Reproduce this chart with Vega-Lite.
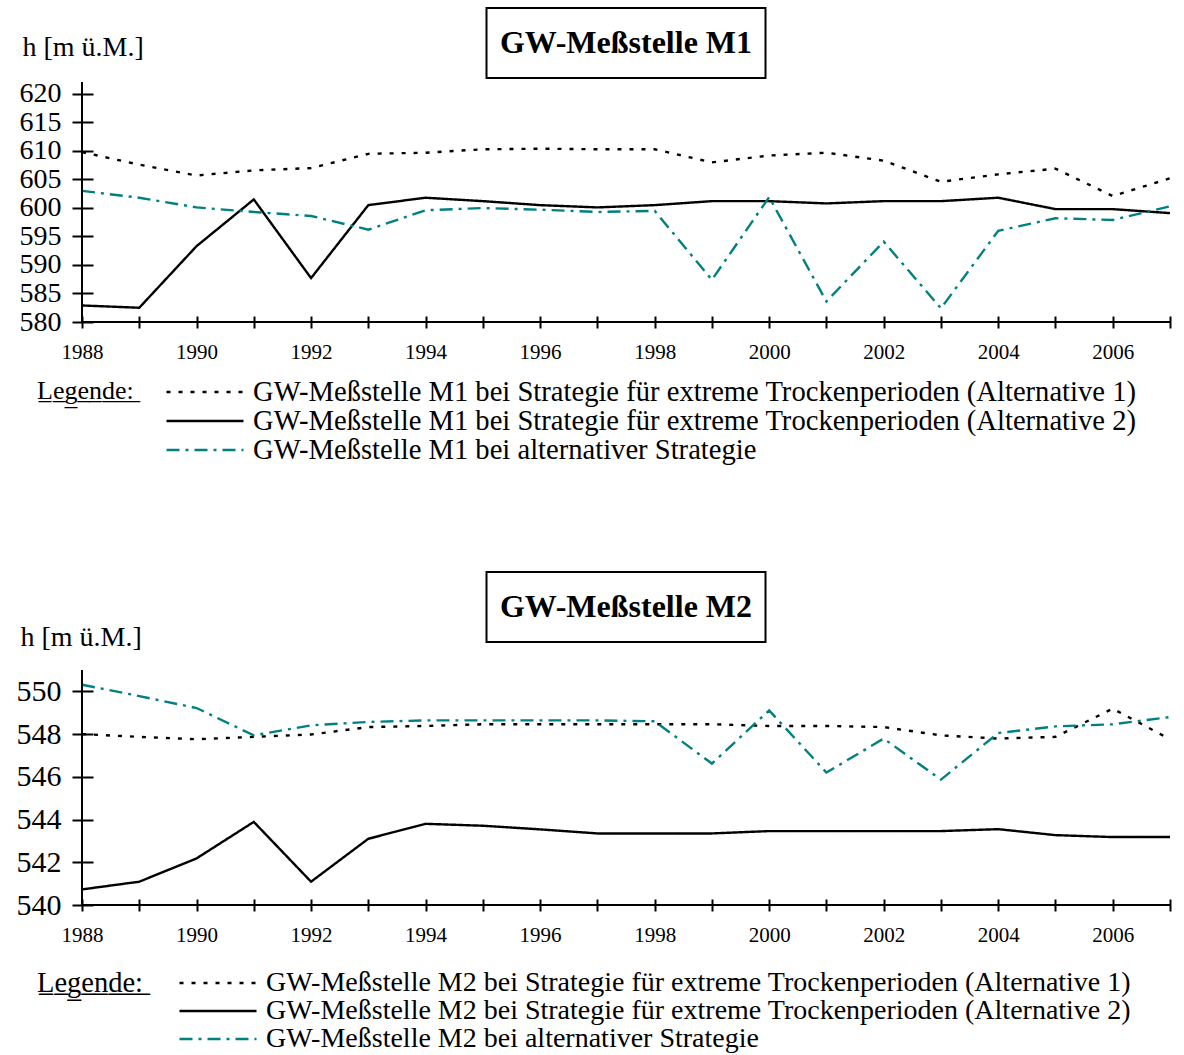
{
  "$schema": "https://vega.github.io/schema/vega-lite/v6.json",
  "padding": {"left": 16, "top": 7, "right": 5, "bottom": 5},
  "bounds": "flush",
  "spacing": 4,
  "center": true,
  "config": {
    "view": {"stroke": null},
    "font": "Liberation Serif",
    "axis": {
      "grid": false,
      "domain": false,
      "labelOverlap": false,
      "tickColor": "black",
      "tickWidth": 2,
      "labelColor": "black",
      "labelFont": "Liberation Serif",
      "titleFont": "Liberation Serif",
      "titleColor": "black",
      "titleFontWeight": "normal"
    }
  },
  "resolve": {"scale": {"color": "independent", "strokeDash": "independent", "x": "independent", "y": "independent"}},
  "datasets": {
    "m1": [
      {"year": 1988, "s": "GW-Meßstelle M1 bei Strategie für extreme Trockenperioden (Alternative 1)", "h": 609.8},
      {"year": 1989, "s": "GW-Meßstelle M1 bei Strategie für extreme Trockenperioden (Alternative 1)", "h": 607.6},
      {"year": 1990, "s": "GW-Meßstelle M1 bei Strategie für extreme Trockenperioden (Alternative 1)", "h": 605.7},
      {"year": 1991, "s": "GW-Meßstelle M1 bei Strategie für extreme Trockenperioden (Alternative 1)", "h": 606.6},
      {"year": 1992, "s": "GW-Meßstelle M1 bei Strategie für extreme Trockenperioden (Alternative 1)", "h": 607.0},
      {"year": 1993, "s": "GW-Meßstelle M1 bei Strategie für extreme Trockenperioden (Alternative 1)", "h": 609.5},
      {"year": 1994, "s": "GW-Meßstelle M1 bei Strategie für extreme Trockenperioden (Alternative 1)", "h": 609.7},
      {"year": 1995, "s": "GW-Meßstelle M1 bei Strategie für extreme Trockenperioden (Alternative 1)", "h": 610.3},
      {"year": 1996, "s": "GW-Meßstelle M1 bei Strategie für extreme Trockenperioden (Alternative 1)", "h": 610.4},
      {"year": 1997, "s": "GW-Meßstelle M1 bei Strategie für extreme Trockenperioden (Alternative 1)", "h": 610.3},
      {"year": 1998, "s": "GW-Meßstelle M1 bei Strategie für extreme Trockenperioden (Alternative 1)", "h": 610.3},
      {"year": 1999, "s": "GW-Meßstelle M1 bei Strategie für extreme Trockenperioden (Alternative 1)", "h": 608.0},
      {"year": 2000, "s": "GW-Meßstelle M1 bei Strategie für extreme Trockenperioden (Alternative 1)", "h": 609.2},
      {"year": 2001, "s": "GW-Meßstelle M1 bei Strategie für extreme Trockenperioden (Alternative 1)", "h": 609.7},
      {"year": 2002, "s": "GW-Meßstelle M1 bei Strategie für extreme Trockenperioden (Alternative 1)", "h": 608.3},
      {"year": 2003, "s": "GW-Meßstelle M1 bei Strategie für extreme Trockenperioden (Alternative 1)", "h": 604.6},
      {"year": 2004, "s": "GW-Meßstelle M1 bei Strategie für extreme Trockenperioden (Alternative 1)", "h": 605.9},
      {"year": 2005, "s": "GW-Meßstelle M1 bei Strategie für extreme Trockenperioden (Alternative 1)", "h": 606.9},
      {"year": 2006, "s": "GW-Meßstelle M1 bei Strategie für extreme Trockenperioden (Alternative 1)", "h": 602.1},
      {"year": 2007, "s": "GW-Meßstelle M1 bei Strategie für extreme Trockenperioden (Alternative 1)", "h": 605.2},
      {"year": 1988, "s": "GW-Meßstelle M1 bei Strategie für extreme Trockenperioden (Alternative 2)", "h": 582.9},
      {"year": 1989, "s": "GW-Meßstelle M1 bei Strategie für extreme Trockenperioden (Alternative 2)", "h": 582.5},
      {"year": 1990, "s": "GW-Meßstelle M1 bei Strategie für extreme Trockenperioden (Alternative 2)", "h": 593.3},
      {"year": 1991, "s": "GW-Meßstelle M1 bei Strategie für extreme Trockenperioden (Alternative 2)", "h": 601.5},
      {"year": 1992, "s": "GW-Meßstelle M1 bei Strategie für extreme Trockenperioden (Alternative 2)", "h": 587.7},
      {"year": 1993, "s": "GW-Meßstelle M1 bei Strategie für extreme Trockenperioden (Alternative 2)", "h": 600.5},
      {"year": 1994, "s": "GW-Meßstelle M1 bei Strategie für extreme Trockenperioden (Alternative 2)", "h": 601.8},
      {"year": 1995, "s": "GW-Meßstelle M1 bei Strategie für extreme Trockenperioden (Alternative 2)", "h": 601.2},
      {"year": 1996, "s": "GW-Meßstelle M1 bei Strategie für extreme Trockenperioden (Alternative 2)", "h": 600.5},
      {"year": 1997, "s": "GW-Meßstelle M1 bei Strategie für extreme Trockenperioden (Alternative 2)", "h": 600.1},
      {"year": 1998, "s": "GW-Meßstelle M1 bei Strategie für extreme Trockenperioden (Alternative 2)", "h": 600.5},
      {"year": 1999, "s": "GW-Meßstelle M1 bei Strategie für extreme Trockenperioden (Alternative 2)", "h": 601.2},
      {"year": 2000, "s": "GW-Meßstelle M1 bei Strategie für extreme Trockenperioden (Alternative 2)", "h": 601.2},
      {"year": 2001, "s": "GW-Meßstelle M1 bei Strategie für extreme Trockenperioden (Alternative 2)", "h": 600.8},
      {"year": 2002, "s": "GW-Meßstelle M1 bei Strategie für extreme Trockenperioden (Alternative 2)", "h": 601.2},
      {"year": 2003, "s": "GW-Meßstelle M1 bei Strategie für extreme Trockenperioden (Alternative 2)", "h": 601.2},
      {"year": 2004, "s": "GW-Meßstelle M1 bei Strategie für extreme Trockenperioden (Alternative 2)", "h": 601.8},
      {"year": 2005, "s": "GW-Meßstelle M1 bei Strategie für extreme Trockenperioden (Alternative 2)", "h": 599.8},
      {"year": 2006, "s": "GW-Meßstelle M1 bei Strategie für extreme Trockenperioden (Alternative 2)", "h": 599.8},
      {"year": 2007, "s": "GW-Meßstelle M1 bei Strategie für extreme Trockenperioden (Alternative 2)", "h": 599.1},
      {"year": 1988, "s": "GW-Meßstelle M1 bei alternativer Strategie", "h": 603.0},
      {"year": 1989, "s": "GW-Meßstelle M1 bei alternativer Strategie", "h": 601.8},
      {"year": 1990, "s": "GW-Meßstelle M1 bei alternativer Strategie", "h": 600.1},
      {"year": 1991, "s": "GW-Meßstelle M1 bei alternativer Strategie", "h": 599.3},
      {"year": 1992, "s": "GW-Meßstelle M1 bei alternativer Strategie", "h": 598.6},
      {"year": 1993, "s": "GW-Meßstelle M1 bei alternativer Strategie", "h": 596.2},
      {"year": 1994, "s": "GW-Meßstelle M1 bei alternativer Strategie", "h": 599.6},
      {"year": 1995, "s": "GW-Meßstelle M1 bei alternativer Strategie", "h": 600.0},
      {"year": 1996, "s": "GW-Meßstelle M1 bei alternativer Strategie", "h": 599.7},
      {"year": 1997, "s": "GW-Meßstelle M1 bei alternativer Strategie", "h": 599.3},
      {"year": 1998, "s": "GW-Meßstelle M1 bei alternativer Strategie", "h": 599.5},
      {"year": 1999, "s": "GW-Meßstelle M1 bei alternativer Strategie", "h": 587.4},
      {"year": 2000, "s": "GW-Meßstelle M1 bei alternativer Strategie", "h": 601.9},
      {"year": 2001, "s": "GW-Meßstelle M1 bei alternativer Strategie", "h": 583.6},
      {"year": 2002, "s": "GW-Meßstelle M1 bei alternativer Strategie", "h": 594.1},
      {"year": 2003, "s": "GW-Meßstelle M1 bei alternativer Strategie", "h": 582.4},
      {"year": 2004, "s": "GW-Meßstelle M1 bei alternativer Strategie", "h": 596.0},
      {"year": 2005, "s": "GW-Meßstelle M1 bei alternativer Strategie", "h": 598.2},
      {"year": 2006, "s": "GW-Meßstelle M1 bei alternativer Strategie", "h": 597.9},
      {"year": 2007, "s": "GW-Meßstelle M1 bei alternativer Strategie", "h": 600.3}
    ],
    "m2": [
      {"year": 1988, "s": "GW-Meßstelle M2 bei Strategie für extreme Trockenperioden (Alternative 1)", "h": 548.0},
      {"year": 1989, "s": "GW-Meßstelle M2 bei Strategie für extreme Trockenperioden (Alternative 1)", "h": 547.87},
      {"year": 1990, "s": "GW-Meßstelle M2 bei Strategie für extreme Trockenperioden (Alternative 1)", "h": 547.76},
      {"year": 1991, "s": "GW-Meßstelle M2 bei Strategie für extreme Trockenperioden (Alternative 1)", "h": 547.87},
      {"year": 1992, "s": "GW-Meßstelle M2 bei Strategie für extreme Trockenperioden (Alternative 1)", "h": 547.98},
      {"year": 1993, "s": "GW-Meßstelle M2 bei Strategie für extreme Trockenperioden (Alternative 1)", "h": 548.33},
      {"year": 1994, "s": "GW-Meßstelle M2 bei Strategie für extreme Trockenperioden (Alternative 1)", "h": 548.38},
      {"year": 1995, "s": "GW-Meßstelle M2 bei Strategie für extreme Trockenperioden (Alternative 1)", "h": 548.46},
      {"year": 1996, "s": "GW-Meßstelle M2 bei Strategie für extreme Trockenperioden (Alternative 1)", "h": 548.46},
      {"year": 1997, "s": "GW-Meßstelle M2 bei Strategie für extreme Trockenperioden (Alternative 1)", "h": 548.46},
      {"year": 1998, "s": "GW-Meßstelle M2 bei Strategie für extreme Trockenperioden (Alternative 1)", "h": 548.46},
      {"year": 1999, "s": "GW-Meßstelle M2 bei Strategie für extreme Trockenperioden (Alternative 1)", "h": 548.46},
      {"year": 2000, "s": "GW-Meßstelle M2 bei Strategie für extreme Trockenperioden (Alternative 1)", "h": 548.38},
      {"year": 2001, "s": "GW-Meßstelle M2 bei Strategie für extreme Trockenperioden (Alternative 1)", "h": 548.38},
      {"year": 2002, "s": "GW-Meßstelle M2 bei Strategie für extreme Trockenperioden (Alternative 1)", "h": 548.33},
      {"year": 2003, "s": "GW-Meßstelle M2 bei Strategie für extreme Trockenperioden (Alternative 1)", "h": 547.94},
      {"year": 2004, "s": "GW-Meßstelle M2 bei Strategie für extreme Trockenperioden (Alternative 1)", "h": 547.79},
      {"year": 2005, "s": "GW-Meßstelle M2 bei Strategie für extreme Trockenperioden (Alternative 1)", "h": 547.87},
      {"year": 2006, "s": "GW-Meßstelle M2 bei Strategie für extreme Trockenperioden (Alternative 1)", "h": 549.19},
      {"year": 2007, "s": "GW-Meßstelle M2 bei Strategie für extreme Trockenperioden (Alternative 1)", "h": 547.76},
      {"year": 1988, "s": "GW-Meßstelle M2 bei Strategie für extreme Trockenperioden (Alternative 2)", "h": 540.73},
      {"year": 1989, "s": "GW-Meßstelle M2 bei Strategie für extreme Trockenperioden (Alternative 2)", "h": 541.09},
      {"year": 1990, "s": "GW-Meßstelle M2 bei Strategie für extreme Trockenperioden (Alternative 2)", "h": 542.18},
      {"year": 1991, "s": "GW-Meßstelle M2 bei Strategie für extreme Trockenperioden (Alternative 2)", "h": 543.89},
      {"year": 1992, "s": "GW-Meßstelle M2 bei Strategie für extreme Trockenperioden (Alternative 2)", "h": 541.09},
      {"year": 1993, "s": "GW-Meßstelle M2 bei Strategie für extreme Trockenperioden (Alternative 2)", "h": 543.10},
      {"year": 1994, "s": "GW-Meßstelle M2 bei Strategie für extreme Trockenperioden (Alternative 2)", "h": 543.80},
      {"year": 1995, "s": "GW-Meßstelle M2 bei Strategie für extreme Trockenperioden (Alternative 2)", "h": 543.71},
      {"year": 1996, "s": "GW-Meßstelle M2 bei Strategie für extreme Trockenperioden (Alternative 2)", "h": 543.54},
      {"year": 1997, "s": "GW-Meßstelle M2 bei Strategie für extreme Trockenperioden (Alternative 2)", "h": 543.35},
      {"year": 1998, "s": "GW-Meßstelle M2 bei Strategie für extreme Trockenperioden (Alternative 2)", "h": 543.35},
      {"year": 1999, "s": "GW-Meßstelle M2 bei Strategie für extreme Trockenperioden (Alternative 2)", "h": 543.35},
      {"year": 2000, "s": "GW-Meßstelle M2 bei Strategie für extreme Trockenperioden (Alternative 2)", "h": 543.46},
      {"year": 2001, "s": "GW-Meßstelle M2 bei Strategie für extreme Trockenperioden (Alternative 2)", "h": 543.46},
      {"year": 2002, "s": "GW-Meßstelle M2 bei Strategie für extreme Trockenperioden (Alternative 2)", "h": 543.46},
      {"year": 2003, "s": "GW-Meßstelle M2 bei Strategie für extreme Trockenperioden (Alternative 2)", "h": 543.46},
      {"year": 2004, "s": "GW-Meßstelle M2 bei Strategie für extreme Trockenperioden (Alternative 2)", "h": 543.55},
      {"year": 2005, "s": "GW-Meßstelle M2 bei Strategie für extreme Trockenperioden (Alternative 2)", "h": 543.27},
      {"year": 2006, "s": "GW-Meßstelle M2 bei Strategie für extreme Trockenperioden (Alternative 2)", "h": 543.18},
      {"year": 2007, "s": "GW-Meßstelle M2 bei Strategie für extreme Trockenperioden (Alternative 2)", "h": 543.18},
      {"year": 1988, "s": "GW-Meßstelle M2 bei alternativer Strategie", "h": 550.31},
      {"year": 1989, "s": "GW-Meßstelle M2 bei alternativer Strategie", "h": 549.78},
      {"year": 1990, "s": "GW-Meßstelle M2 bei alternativer Strategie", "h": 549.22},
      {"year": 1991, "s": "GW-Meßstelle M2 bei alternativer Strategie", "h": 547.94},
      {"year": 1992, "s": "GW-Meßstelle M2 bei alternativer Strategie", "h": 548.41},
      {"year": 1993, "s": "GW-Meßstelle M2 bei alternativer Strategie", "h": 548.57},
      {"year": 1994, "s": "GW-Meßstelle M2 bei alternativer Strategie", "h": 548.64},
      {"year": 1995, "s": "GW-Meßstelle M2 bei alternativer Strategie", "h": 548.64},
      {"year": 1996, "s": "GW-Meßstelle M2 bei alternativer Strategie", "h": 548.64},
      {"year": 1997, "s": "GW-Meßstelle M2 bei alternativer Strategie", "h": 548.64},
      {"year": 1998, "s": "GW-Meßstelle M2 bei alternativer Strategie", "h": 548.60},
      {"year": 1999, "s": "GW-Meßstelle M2 bei alternativer Strategie", "h": 546.62},
      {"year": 2000, "s": "GW-Meßstelle M2 bei alternativer Strategie", "h": 549.11},
      {"year": 2001, "s": "GW-Meßstelle M2 bei alternativer Strategie", "h": 546.20},
      {"year": 2002, "s": "GW-Meßstelle M2 bei alternativer Strategie", "h": 547.79},
      {"year": 2003, "s": "GW-Meßstelle M2 bei alternativer Strategie", "h": 545.87},
      {"year": 2004, "s": "GW-Meßstelle M2 bei alternativer Strategie", "h": 548.05},
      {"year": 2005, "s": "GW-Meßstelle M2 bei alternativer Strategie", "h": 548.36},
      {"year": 2006, "s": "GW-Meßstelle M2 bei alternativer Strategie", "h": 548.46},
      {"year": 2007, "s": "GW-Meßstelle M2 bei alternativer Strategie", "h": 548.80}
    ]
  },
  "vconcat": [
    {
      "width": 279, "height": 70,
      "view": {"stroke": "black", "strokeWidth": 2},
      "data": {"values": [{"t": "GW-Meßstelle M1"}]},
      "mark": {"type": "text", "font": "Liberation Serif", "fontWeight": "bold", "fontSize": 32, "align": "center", "baseline": "middle", "color": "black"},
      "encoding": {"text": {"field": "t"}}
    },
    {
      "width": 1088, "height": 240,
      "layer": [
        {
          "data": {"name": "m1"},
          "mark": {"type": "line", "strokeWidth": 2.4},
          "encoding": {
            "x": {"field": "year", "type": "quantitative",
              "scale": {"domain": [1988, 2007], "nice": false, "zero": false},
              "axis": {"title": null, "values": [1988,1989,1990,1991,1992,1993,1994,1995,1996,1997,1998,1999,2000,2001,2002,2003,2004,2005,2006,2007],
                "format": "d", "labelExpr": "datum.value % 2 === 0 ? datum.label : ''",
                "labelFlush": false, "labelOverlap": false, "offset": -6, "tickSize": 12, "labelFontSize": 21, "labelPadding": 13}},
            "y": {"field": "h", "type": "quantitative",
              "scale": {"domain": [580, 622.1], "nice": false, "zero": false},
              "axis": {"values": [580,585,590,595,600,605,610,615,620], "labelOverlap": false, "offset": -11, "tickSize": 21, "labelFontSize": 28, "labelPadding": 11,
                "title": "h [m ü.M.]", "titleAngle": 0, "titleAlign": "left", "titleBaseline": "middle", "titleX": -71, "titleY": -35, "titleFontSize": 28}},
            "color": {"field": "s", "type": "nominal",
              "scale": {"domain": ["GW-Meßstelle M1 bei Strategie für extreme Trockenperioden (Alternative 1)", "GW-Meßstelle M1 bei Strategie für extreme Trockenperioden (Alternative 2)", "GW-Meßstelle M1 bei alternativer Strategie"], "range": ["#000000", "#000000", "#008080"]},
              "legend": {"orient": "none", "legendX": -45, "legendY": 296, "direction": "vertical", "title": "L\u0332e\u0332g\u0332e\u0332n\u0332d\u0332e\u0332:\u0332", "titleOrient": "left", "titleAnchor": "start", "titleBaseline": "top", "titleFontSize": 26, "titleFontWeight": "normal", "titleColor": "black", "titlePadding": 31, "labelFontSize": 28.6, "labelColor": "black", "labelLimit": 0, "labelOffset": 8, "symbolType": "stroke", "symbolSize": 5929, "symbolStrokeWidth": 2.4, "clipHeight": 28, "rowPadding": 0}},
            "strokeDash": {"field": "s", "type": "nominal",
              "scale": {"domain": ["GW-Meßstelle M1 bei Strategie für extreme Trockenperioden (Alternative 1)", "GW-Meßstelle M1 bei Strategie für extreme Trockenperioden (Alternative 2)", "GW-Meßstelle M1 bei alternativer Strategie"], "range": [[4, 8], [1, 0], [13, 6, 3, 6]]},
              "legend": {"orient": "none", "legendX": -45, "legendY": 296, "direction": "vertical", "title": "L\u0332e\u0332g\u0332e\u0332n\u0332d\u0332e\u0332:\u0332", "titleOrient": "left", "titleAnchor": "start", "titleBaseline": "top", "titleFontSize": 26, "titleFontWeight": "normal", "titleColor": "black", "titlePadding": 31, "labelFontSize": 28.6, "labelColor": "black", "labelLimit": 0, "labelOffset": 8, "symbolType": "stroke", "symbolSize": 5929, "symbolStrokeWidth": 2.4, "clipHeight": 28, "rowPadding": 0}}
          }
        },
        {
          "data": {"values": [{}]},
          "mark": {"type": "rule", "color": "black", "strokeWidth": 2},
          "encoding": {"x": {"datum": 1988, "type": "quantitative",
              "axis": {"title": null, "values": [1988,1989,1990,1991,1992,1993,1994,1995,1996,1997,1998,1999,2000,2001,2002,2003,2004,2005,2006,2007],
                "format": "d", "labelExpr": "datum.value % 2 === 0 ? datum.label : ''",
                "labelFlush": false, "labelOverlap": false, "offset": -6, "tickSize": 12, "labelFontSize": 21, "labelPadding": 13}}}
        },
        {
          "data": {"values": [{}]},
          "mark": {"type": "rule", "color": "black", "strokeWidth": 2},
          "encoding": {"y": {"datum": 580, "type": "quantitative",
              "axis": {"values": [580,585,590,595,600,605,610,615,620], "labelOverlap": false, "offset": -11, "tickSize": 21, "labelFontSize": 28, "labelPadding": 11,
                "title": "h [m ü.M.]", "titleAngle": 0, "titleAlign": "left", "titleBaseline": "middle", "titleX": -71, "titleY": -35, "titleFontSize": 28}}}
        }
      ]
    },
    {
      "width": 10, "height": 242,
      "data": {"values": [{"t": ""}]},
      "mark": {"type": "text"},
      "encoding": {"text": {"field": "t"}}
    },
    {
      "width": 279, "height": 70,
      "view": {"stroke": "black", "strokeWidth": 2},
      "data": {"values": [{"t": "GW-Meßstelle M2"}]},
      "mark": {"type": "text", "font": "Liberation Serif", "fontWeight": "bold", "fontSize": 32, "align": "center", "baseline": "middle", "color": "black"},
      "encoding": {"text": {"field": "t"}}
    },
    {
      "width": 10, "height": 20,
      "data": {"values": [{"t": ""}]},
      "mark": {"type": "text"},
      "encoding": {"text": {"field": "t"}}
    },
    {
      "width": 1088, "height": 235,
      "layer": [
        {
          "data": {"name": "m2"},
          "mark": {"type": "line", "strokeWidth": 2.4},
          "encoding": {
            "x": {"field": "year", "type": "quantitative",
              "scale": {"domain": [1988, 2007], "nice": false, "zero": false},
              "axis": {"title": null, "values": [1988,1989,1990,1991,1992,1993,1994,1995,1996,1997,1998,1999,2000,2001,2002,2003,2004,2005,2006,2007],
                "format": "d", "labelExpr": "datum.value % 2 === 0 ? datum.label : ''",
                "labelFlush": false, "labelOverlap": false, "offset": -6, "tickSize": 12, "labelFontSize": 21, "labelPadding": 13}},
            "y": {"field": "h", "type": "quantitative",
              "scale": {"domain": [540, 551], "nice": false, "zero": false},
              "axis": {"values": [540,542,544,546,548,550], "labelOverlap": false, "offset": -11, "tickSize": 21, "labelFontSize": 30, "labelPadding": 11,
                "title": "h [m ü.M.]", "titleAngle": 0, "titleAlign": "left", "titleBaseline": "middle", "titleX": -73, "titleY": -33, "titleFontSize": 28}},
            "color": {"field": "s", "type": "nominal",
              "scale": {"domain": ["GW-Meßstelle M2 bei Strategie für extreme Trockenperioden (Alternative 1)", "GW-Meßstelle M2 bei Strategie für extreme Trockenperioden (Alternative 2)", "GW-Meßstelle M2 bei alternativer Strategie"], "range": ["#000000", "#000000", "#008080"]},
              "legend": {"orient": "none", "legendX": -45, "legendY": 299, "direction": "vertical", "title": "L\u0332e\u0332g\u0332e\u0332n\u0332d\u0332e\u0332:\u0332", "titleOrient": "left", "titleAnchor": "start", "titleBaseline": "top", "titleFontSize": 28.5, "titleFontWeight": "normal", "titleColor": "black", "titlePadding": 34, "labelFontSize": 28, "labelColor": "black", "labelLimit": 0, "labelOffset": 8, "symbolType": "stroke", "symbolSize": 5929, "symbolStrokeWidth": 2.4, "clipHeight": 28, "rowPadding": 0}},
            "strokeDash": {"field": "s", "type": "nominal",
              "scale": {"domain": ["GW-Meßstelle M2 bei Strategie für extreme Trockenperioden (Alternative 1)", "GW-Meßstelle M2 bei Strategie für extreme Trockenperioden (Alternative 2)", "GW-Meßstelle M2 bei alternativer Strategie"], "range": [[4, 8], [1, 0], [13, 6, 3, 6]]},
              "legend": {"orient": "none", "legendX": -45, "legendY": 299, "direction": "vertical", "title": "L\u0332e\u0332g\u0332e\u0332n\u0332d\u0332e\u0332:\u0332", "titleOrient": "left", "titleAnchor": "start", "titleBaseline": "top", "titleFontSize": 28.5, "titleFontWeight": "normal", "titleColor": "black", "titlePadding": 34, "labelFontSize": 28, "labelColor": "black", "labelLimit": 0, "labelOffset": 8, "symbolType": "stroke", "symbolSize": 5929, "symbolStrokeWidth": 2.4, "clipHeight": 28, "rowPadding": 0}}
          }
        },
        {
          "data": {"values": [{}]},
          "mark": {"type": "rule", "color": "black", "strokeWidth": 2},
          "encoding": {"x": {"datum": 1988, "type": "quantitative",
              "axis": {"title": null, "values": [1988,1989,1990,1991,1992,1993,1994,1995,1996,1997,1998,1999,2000,2001,2002,2003,2004,2005,2006,2007],
                "format": "d", "labelExpr": "datum.value % 2 === 0 ? datum.label : ''",
                "labelFlush": false, "labelOverlap": false, "offset": -6, "tickSize": 12, "labelFontSize": 21, "labelPadding": 13}}}
        },
        {
          "data": {"values": [{}]},
          "mark": {"type": "rule", "color": "black", "strokeWidth": 2},
          "encoding": {"y": {"datum": 540, "type": "quantitative",
              "axis": {"values": [540,542,544,546,548,550], "labelOverlap": false, "offset": -11, "tickSize": 21, "labelFontSize": 30, "labelPadding": 11,
                "title": "h [m ü.M.]", "titleAngle": 0, "titleAlign": "left", "titleBaseline": "middle", "titleX": -73, "titleY": -33, "titleFontSize": 28}}}
        }
      ]
    }
  ]
}
